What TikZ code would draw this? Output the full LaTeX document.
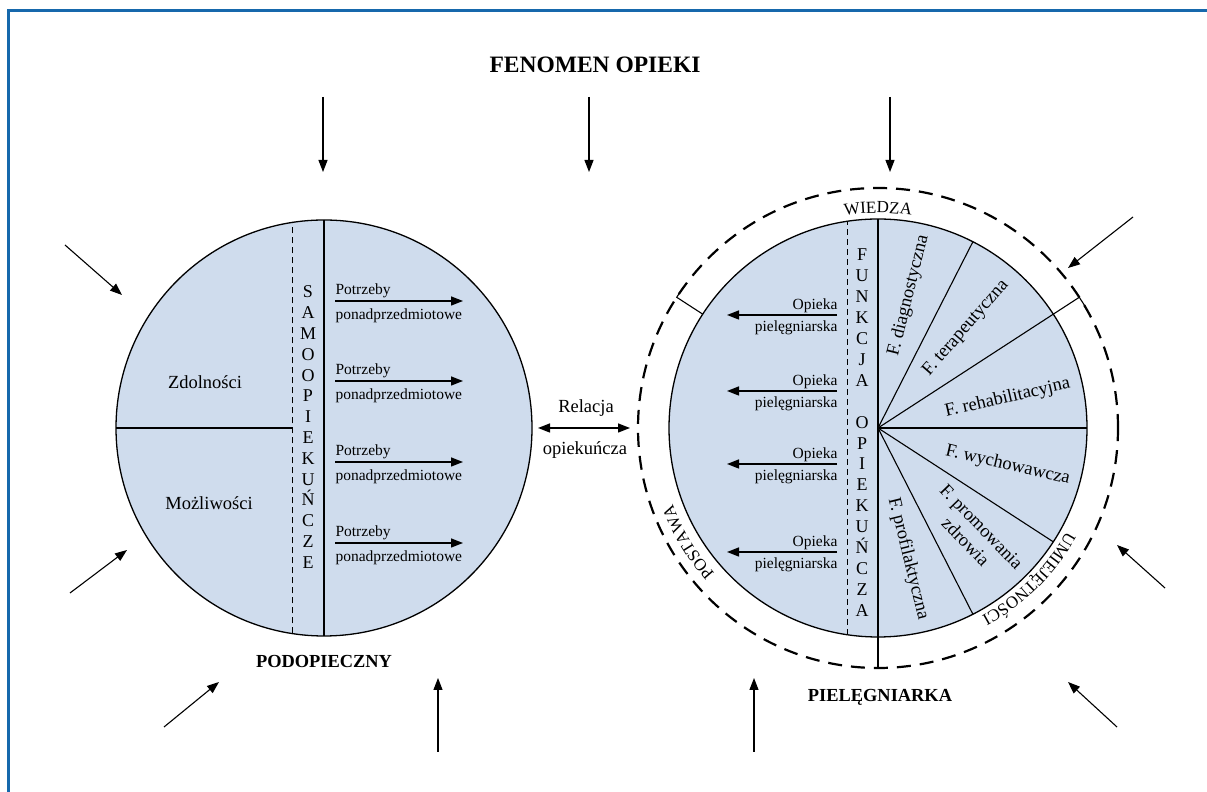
\documentclass[tikz,border=0pt]{standalone}
\usepackage{fontspec}
\setmainfont{Liberation Serif}
\usetikzlibrary{arrows.meta,decorations.text}
\definecolor{frameblue}{RGB}{22,104,172}
\definecolor{discblue}{RGB}{207,220,237}
\newcommand{\fsize}[2]{\fontsize{#1}{#2}\selectfont}
\newcommand{\ringfont}{\fontsize{17}{17}\selectfont}
\begin{document}
\begin{tikzpicture}[x=1pt,y=1pt,line width=1.1pt,>={Triangle[length=12pt,width=9pt]},
    disc/.style={circle,draw,line width=1.3pt,fill=discblue,inner sep=0pt,outer sep=0pt,minimum size=416pt},
    thindash/.style={dash pattern=on 6pt off 4pt,line width=1pt},
    inarrow/.style={->,line width=1.1pt},
    flow/.style={->,line width=1.4pt},
    lbl/.style={font=\fsize{15.5}{18},inner sep=0pt},
    biglbl/.style={font=\fsize{18.5}{22}},
    sector/.style={font=\fsize{18.5}{22},inner sep=0pt,align=center}]
    \useasboundingbox (0,0) rectangle (1207,792);
    \draw[frameblue,line width=3pt] (8,0)--(8,781)--(1207,781);
    % title and names
    \node[font=\bfseries\fsize{23.5}{28}] (title) at (595,727) {FENOMEN OPIEKI};
    \node[font=\bfseries\fsize{18.4}{22}] (podname) at (324,130) {PODOPIECZNY};
    \node[font=\bfseries\fsize{18.4}{22}] (pielname) at (880,95) {PIELĘGNIARKA};
    % discs
    \node[disc] (pod) at (324,364) {};
    \node[disc,minimum size=418pt] (piel) at (878,364) {};
    \node[circle,draw,inner sep=0pt,outer sep=0pt,minimum size=480pt,line width=2.2pt,dash pattern=on 14pt off 9pt] (ring) at (878,364) {};
    % left disc
    \draw (pod.north)--(pod.south);
    \draw[thindash] (292,158.5)--(292,569.5);
    \draw (pod.west)--(292,364);
    \node[biglbl] (zdol) at (205,410) {Zdolności};
    \node[biglbl] (mozl) at (209,289) {Możliwości};
    \foreach \l [count=\i from 0] in {S,A,M,O,O,P,I,E,K,U,Ń,C,Z,E}
        \node[font=\fsize{18}{18},anchor=base,inner sep=0pt] (sam\i) at (308,{494-20.8*\i}) {\l};
    \foreach \y [count=\i] in {491,411,330,249}
        {
            \coordinate (ps\i) at (335,\y);
            \coordinate (pe\i) at (463,\y);
            \draw[flow] (ps\i)--(pe\i);
            \node[lbl,anchor=base west] (pa\i) at (335,\y+6) {Potrzeby};
            \node[lbl,anchor=base west] (pb\i) at (335,\y-19) {ponadprzedmiotowe};
        }
    % right disc
    \draw (piel.north)--(ring.south);
    \draw[thindash] (847,157.3)--(847,570.7);
    \foreach \a in {63,0,-33,-63}
        {\draw (piel.center)--(piel.\a);}
    \draw (piel.center)--(ring.33)--++(-57:11);
    \draw (piel.147)--(ring.147)--++(57:11);
    \foreach \l [count=\i from 0] in {F,U,N,K,C,J,A,{},O,P,I,E,K,U,Ń,C,Z,A}
        \node[font=\fsize{18}{18},anchor=base,inner sep=0pt] (fun\i) at (862,{531-20.9*\i}) {\l};
    \foreach \y [count=\i] in {477,401,328,240}
        {
            \coordinate (os\i) at (837,\y);
            \coordinate (oe\i) at (727,\y);
            \draw[flow] (os\i)--(oe\i);
            \node[lbl,anchor=base east] (oa\i) at (838,\y+5) {Opieka};
            \node[lbl,anchor=base east] (ob\i) at (838,\y-17) {pielęgniarska};
        }
    \node[sector,rotate=76] (fdiag) at ([shift={(77:136)}]piel.center) {F. diagnostyczna};
    \node[sector,rotate=49] (fter) at ([shift={(48.6:133)}]piel.center) {F. terapeutyczna};
    \node[sector,rotate=13] (freh) at ([shift={(13:133)}]piel.center) {F. rehabilitacyjna};
    \node[sector,rotate=-13] (fwych) at ([shift={(-16:135)}]piel.center) {F. wychowawcza};
    \node[sector,rotate=-46] (fprom) at ([shift={(-48:143)}]piel.center) {F. promowania\\zdrowia};
    \node[sector,rotate=-76] (fprof) at ([shift={(-77:134)}]piel.center) {F. profilaktyczna};
    % ring labels
    \path[decorate,decoration={text along path,text align=center,text={|\ringfont|WIEDZA}}]
        ([shift={(130:215)}]piel.center) arc[start angle=130,end angle=50,radius=215];
    \path[decorate,decoration={text along path,text align=center,text={|\ringfont|UMIEJĘTNOŚCI}}]
        ([shift={(-5:215)}]piel.center) arc[start angle=-5,end angle=-85,radius=215];
    \path[decorate,decoration={text along path,text align=center,text={|\ringfont|POSTAWA}}]
        ([shift={(251:219)}]piel.center) arc[start angle=251,end angle=171,radius=219];
    % relation
    \draw[<->,line width=1.4pt] ([xshift=6pt]pod.east)--([xshift=-8pt]ring.west);
    \node[biglbl] (rel) at (586,384) {Relacja};
    \node[biglbl] (relb) at (585,342) {opiekuńcza};
    % outer arrows
    \foreach \sx/\sy/\ex/\ey [count=\i] in {323/695/323/620,589/695/589/620,890/695/890/620,65/547/122/497,70/199/127/242,164/65/219/110,438/40/438/114,754/40/754/114,1117/65/1068/110,1165/204/1117/247,1133/575/1068/524}
        {
            \coordinate (s\i) at (\sx,\sy);
            \coordinate (e\i) at (\ex,\ey);
            \draw[inarrow] (s\i)--(e\i);
        }
\end{tikzpicture}
\end{document}
